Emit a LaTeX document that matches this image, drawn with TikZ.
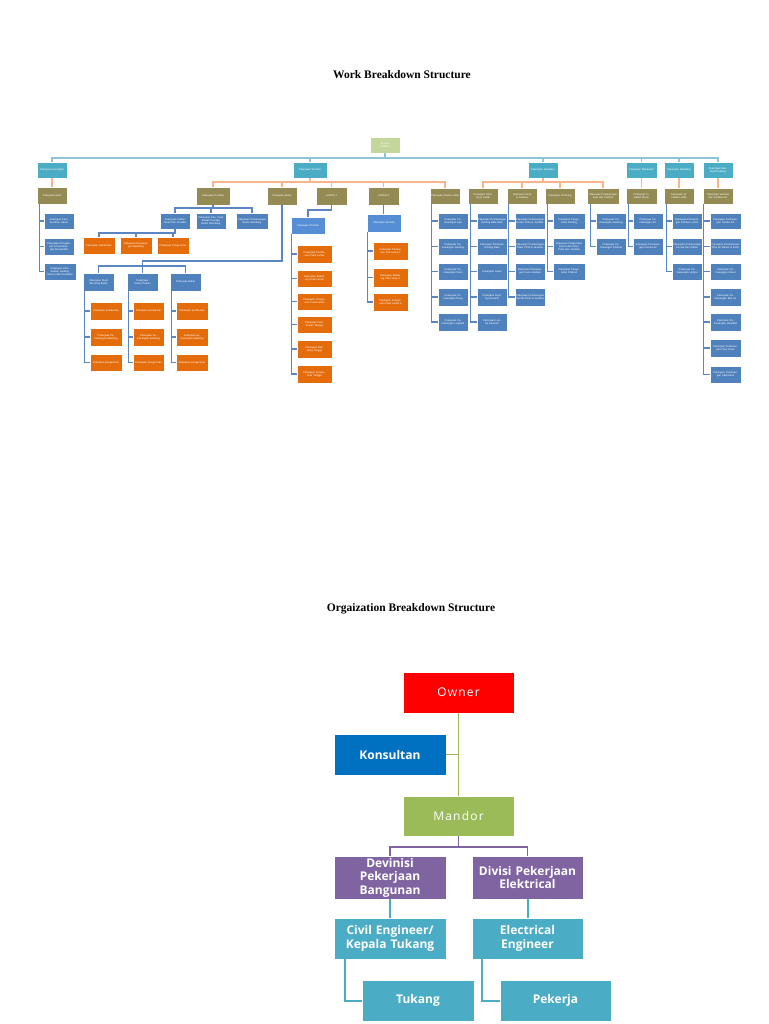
\documentclass[tikz,border=0pt]{standalone}
\usepackage{fontspec}
\setmainfont{Liberation Sans}
\newfontfamily\titlefont{Liberation Serif}
\newfontfamily\orgfont{Open Sans}
\newfontfamily\orgsp[LetterSpace=10]{Open Sans}
\usetikzlibrary{calc}
\definecolor{rootg}{HTML}{C3D69B}
\definecolor{tealc}{HTML}{4BACC6}
\definecolor{olivec}{HTML}{948A54}
\definecolor{bluec}{HTML}{4F81BD}
\definecolor{sbluec}{HTML}{558ED5}
\definecolor{orangec}{HTML}{E46C0A}
\definecolor{topline}{HTML}{8FC3D8}
\definecolor{orline}{HTML}{F9B48A}
\definecolor{blline}{HTML}{5B86C2}
\definecolor{ownerc}{HTML}{FF0000}
\definecolor{konsc}{HTML}{0070C0}
\definecolor{mandc}{HTML}{9BBB59}
\definecolor{purpc}{HTML}{8064A2}
\newcommand\bx[7]{\node[#2, minimum width={(#5)-(#3)}, minimum height={(#6)-(#4)}] (#1) at ({((#3)+(#5))/2},{((#4)+(#6))/2}) {#7};}
\tikzset{
 wb/.style={draw=white, line width=0.3pt, inner sep=0.3pt, align=center, text=white, text width=28pt, font=\fontsize{2.6}{3.1}\selectfont},
 rt/.style={wb, fill=rootg},
 la/.style={wb, fill=tealc},
 lb/.style={wb, fill=olivec},
 lc/.style={wb, fill=bluec},
 ls/.style={wb, fill=sbluec},
 lo/.style={wb, fill=orangec},
 tcon/.style={draw=topline, line width=1.2pt},
 ocon/.style={draw=orline, line width=1.2pt},
 bcon/.style={draw=blline, line width=1.1pt},
 og/.style={draw=white, line width=0.5pt, inner sep=1pt, align=center, text=white, text width=105pt, font=\orgfont\bfseries\fontsize{12}{13.5}\selectfont},
 ogs/.style={og, font=\orgsp\fontsize{12}{13.5}\selectfont},
 gcon/.style={draw=mandc, line width=1.6pt},
 pcon/.style={draw=purpc, line width=1.6pt},
 ccon/.style={draw=tealc, line width=2pt},
}
\begin{document}
\begin{tikzpicture}[x=1pt,y=-1pt]
\useasboundingbox[fill=white] (0,0) rectangle (768,1024);
% titles
\node[font=\titlefont\bfseries\fontsize{11.5}{13}\selectfont] (t1) at (402,75) {Work Breakdown Structure};
\node[font=\titlefont\bfseries\fontsize{11.5}{13}\selectfont] (t2) at (411,609) {Orgaization Breakdown Structure};
% level bars
\coordinate (ytop) at (0,158);
\coordinate (yor) at (0,182);
\coordinate (ypond) at (0,208);
\coordinate (ygal) at (0,233);
\coordinate (ylt) at (0,210);
\coordinate (bj) at (142.5,261);
\coordinate (ybet) at (0,266);
% root and level 1
\bx{root}{rt}{370}{137}{400}{153}{Proyek\\Lantai 2}
\bx{pers}{la}{37}{162}{67}{178}{Pekerjaan Persiapan}
\bx{struk}{la}{293}{162}{327}{178}{Pekerjaan Struktur}
\bx{arsi}{la}{528}{162}{558}{178}{Pekerjaan Arsitektur}
\bx{meka}{la}{626}{162}{657}{178}{Pekerjaan Mekanikal}
\bx{elek}{la}{664}{162}{694}{178}{Pekerjaan Elektrikal}
\bx{sani}{la}{703}{162}{733}{178}{Pekerjaan Sanitasi/Plumbing}
\foreach \n in {pers,struk,arsi,meka,elek,sani}{
 \draw[tcon] (root.south) -- (root.south |- ytop) -| (\n.north);
}
% level 2
\bx{awal}{lb}{37}{187}{67}{204}{Pekerjaan Awal}
\bx{pond}{lb}{196}{187}{230}{205}{Pekerjaan Pondasi}
\bx{beton}{lb}{267}{187}{297}{205}{Pekerjaan Beton}
\bx{lt1}{lb}{316}{187}{347}{205}{LANTAI 1}
\bx{lt2}{lb}{368}{187}{399}{205}{LANTAI 2}
\bx{atap}{lb}{430}{188}{460}{204}{Pekerjaan Struktur Atap}
\bx{dind}{lb}{468}{188}{498}{204}{Pekerjaan Dinding \& Lantai}
\bx{pint}{lb}{507}{188}{537}{204}{Pekerjaan Pintu \& Jendela}
\bx{fini}{lb}{545}{188}{575}{204}{Pekerjaan Finishing}
\bx{plaf}{lb}{587}{188}{619}{204}{Pekerjaan Pemasangan Atap dan Plafond}
\bx{mesin}{lb}{626}{188}{657}{204}{Pekerjaan Instalasi Mesin}
\bx{listr}{lb}{664}{188}{694}{204}{Pekerjaan Instalasi Listrik}
\bx{sair}{lb}{703}{188}{733}{204}{Pekerjaan Sanitasi dan Instalasi Air}
\draw[ocon] (pers.south) -- (awal.north);
\foreach \n in {pond,beton,lt1,lt2,atap}{
 \draw[ocon] (struk.south) -- (struk.south |- yor) -| (\n.north);
}
\foreach \n in {dind,pint,fini,plaf}{
 \draw[ocon] (arsi.south) -- (arsi.south |- yor) -| (\n.north);
}
\draw[ocon] (meka.south) -- (mesin.north);
\draw[ocon] (elek.south) -- (listr.north);
\draw[ocon] (sani.south) -- (sair.north);
% Persiapan children
\bx{aw1}{lc}{44}{213}{74}{229}{Pekerjaan Pembersihan Lahan}
\bx{aw2}{lc}{44}{238}{74}{255}{Pekerjaan Pengukuran \& Pemasangan Bouwplank}
\bx{aw3}{lc}{44}{263}{76}{280}{Pekerjaan Pembuatan Gudang Semen dan Peralatan}
\foreach \n in {aw1,aw2,aw3}{\draw[bcon] ([xshift=3pt]awal.south west) |- (\n.west);}
% Pondasi
\bx{pg}{lc}{160}{213}{190}{229}{Pekerjaan Galian Tanah dan Pondasi}
\bx{pp}{lc}{196}{213}{226}{229}{Pekerjaan Pas. Pasir Bawah Pondasi Beton Bertulang}
\bx{pb}{lc}{236}{213}{268}{229}{Pekerjaan Pemasangan Beton Bertulang}
\foreach \n in {pg,pp,pb}{\draw[bcon] (pond.south) -- (pond.south |- ypond) -| (\n.north);}
\bx{po1}{lo}{83}{237}{115}{254}{Pekerjaan Pembesian}
\bx{po2}{lo}{120}{237}{152}{254}{Pekerjaan Pemasangan Bekisting}
\bx{po3}{lo}{157}{237}{189}{254}{Pekerjaan Pengecoran}
\foreach \n in {po1,po2,po3}{\draw[bcon] (pg.south) -- (pg.south |- ygal) -| (\n.north);}
% Beton
\bx{sl}{lc}{83}{273}{114}{291}{Pekerjaan Sloof dan Ring Balok}
\bx{kp}{lc}{127}{273}{158}{291}{Pekerjaan Kolom Praktis}
\bx{bl}{lc}{170}{273}{201}{291}{Pekerjaan Balok}
\draw[bcon] (beton.south) |- (bj) -- (kp.north);
\draw[bcon] (kp.north |- ybet) -| (sl.north);
\draw[bcon] (kp.north |- ybet) -| (bl.north);
\bx{sa}{lo}{90}{302}{122}{320}{Pekerjaan pembesian}
\bx{sb}{lo}{90}{328}{122}{346}{Pekerjaan Pemasangan bekisting}
\bx{sc}{lo}{90}{354}{122}{371}{Pekerjaan pengecoran}
\bx{ka}{lo}{133}{302}{164}{320}{Pekerjaan pembesian}
\bx{kb}{lo}{133}{328}{164}{346}{Pekerjaan Pemasangan bekisting}
\bx{kc}{lo}{133}{354}{164}{371}{Pekerjaan pengecoran}
\bx{ba}{lo}{176}{302}{208}{320}{Pekerjaan pembesian}
\bx{bb}{lo}{176}{328}{208}{346}{Pekerjaan pemasangan bekisting}
\bx{bc}{lo}{176}{354}{208}{371}{Pekerjaan pengecoran}
\foreach \n in {sa,sb,sc}{\draw[bcon] ([xshift=2pt]sl.south west) |- (\n.west);}
\foreach \n in {ka,kb,kc}{\draw[bcon] ([xshift=2pt]kp.south west) |- (\n.west);}
\foreach \n in {ba,bb,bc}{\draw[bcon] ([xshift=2pt]bl.south west) |- (\n.west);}
% Lantai 1
\bx{sl1}{ls}{291}{217}{325}{234}{Pekerjaan Struktur}
\draw[bcon] (lt1.south) -- (lt1.south |- ylt) -| (sl1.north);
\bx{la1}{lo}{297}{245}{332}{263}{Pekerjaan Pembesian Pelat Lantai}
\bx{la2}{lo}{297}{270}{332}{287}{Pekerjaan Bekisting Pelat Lantai}
\bx{la3}{lo}{297}{293}{332}{310}{Pekerjaan Pengecoran Pelat Lantai}
\bx{la4}{lo}{297}{316}{332}{333}{Pekerjaan Pembesian Tangga}
\bx{la5}{lo}{297}{340}{332}{358}{Pekerjaan Bekisting Tangga}
\bx{la6}{lo}{297}{365}{332}{383}{Pekerjaan Pengecoran Tangga}
\foreach \n in {la1,la2,la3,la4,la5,la6}{\draw[bcon] ([xshift=1pt]sl1.south west) |- (\n.west);}
% Lantai 2
\bx{sl2}{ls}{367}{214}{401}{232}{Pekerjaan Struktur}
\draw[bcon] (lt2.south) -- (lt2.south |- sl2.north);
\bx{lb1}{lo}{373}{242}{408}{260}{Pekerjaan Pembesian Plat Lantai 2}
\bx{lb2}{lo}{373}{268}{408}{287}{Pekerjaan Bekisting Plat Lantai 2}
\bx{lb3}{lo}{373}{293}{408}{311}{Pekerjaan Pengecoran Pelat Lantai 2}
\foreach \n in {lb1,lb2,lb3}{\draw[bcon] ([xshift=1pt]sl2.south west) |- (\n.west);}
% Struktur Atap
\bx{at1}{lc}{438}{213}{468}{229}{Pekerjaan Pemasangan Kap}
\bx{at2}{lc}{438}{238}{468}{255}{Pekerjaan Pemasangan Gording}
\bx{at3}{lc}{438}{263}{468}{280}{Pekerjaan Pemasangan Kaso}
\bx{at4}{lc}{438}{288}{468}{306}{Pekerjaan Pemasangan Reng}
\bx{at5}{lc}{438}{313}{468}{331}{Pekerjaan Pemasangan Lisplank}
\foreach \n in {at1,at2,at3,at4,at5}{\draw[bcon] ([xshift=2pt]atap.south west) |- (\n.west);}
% Dinding & Lantai
\bx{di1}{lc}{477}{213}{507}{229}{Pekerjaan Pemasangan Dinding Batu Bata}
\bx{di2}{lc}{477}{238}{507}{255}{Pekerjaan Plesteran Dinding Bata}
\bx{di3}{lc}{477}{263}{507}{280}{Pekerjaan Acian}
\bx{di4}{lc}{477}{288}{507}{306}{Pekerjaan Dinding Keramik}
\bx{di5}{lc}{477}{313}{507}{331}{Pekerjaan Lantai Keramik}
\foreach \n in {di1,di2,di3,di4,di5}{\draw[bcon] ([xshift=3pt]dind.south west) |- (\n.west);}
% Pintu & Jendela
\bx{pj1}{lc}{515}{213}{545}{229}{Pekerjaan Pemasangan Kusen Pintu \& Jendela}
\bx{pj2}{lc}{515}{238}{545}{255}{Pekerjaan Pemasangan Daun Pintu \& Jendela}
\bx{pj3}{lc}{515}{263}{545}{280}{Pekerjaan Pemasangan Kaca Jendela}
\bx{pj4}{lc}{515}{288}{545}{306}{Pekerjaan Pemasangan Gendel Pintu \& Jendela}
\foreach \n in {pj1,pj2,pj3,pj4}{\draw[bcon] ([xshift=2pt]pint.south west) |- (\n.west);}
% Finishing
\bx{fi1}{lc}{553}{213}{585}{229}{Pekerjaan Pengecatan Dinding}
\bx{fi2}{lc}{553}{238}{585}{255}{Pekerjaan Pengecatan Kusen dan Daun Pintu dan Jendela}
\bx{fi3}{lc}{553}{263}{585}{280}{Pekerjaan Pengecatan Plafond}
\foreach \n in {fi1,fi2,fi3}{\draw[bcon] ([xshift=3pt]fini.south west) |- (\n.west);}
% Atap dan Plafond
\bx{pl1}{lc}{596}{213}{626}{229}{Pekerjaan Pemasangan Genteng}
\bx{pl2}{lc}{596}{238}{626}{255}{Pekerjaan Pemasangan Plafond}
\foreach \n in {pl1,pl2}{\draw[bcon] ([xshift=4pt]plaf.south west) |- (\n.west);}
% Mesin
\bx{me1}{lc}{633}{213}{663}{229}{Pekerjaan Pemasangan AC}
\bx{me2}{lc}{633}{238}{663}{255}{Pekerjaan Pemasangan Pompa Air}
\foreach \n in {me1,me2}{\draw[bcon] ([xshift=3pt]mesin.south west) |- (\n.west);}
% Listrik
\bx{li1}{lc}{672}{213}{702}{229}{Pekerjaan Pemasangan Instalasi Listrik}
\bx{li2}{lc}{672}{238}{702}{255}{Pekerjaan Pemasangan Kontak dan Saklar}
\bx{li3}{lc}{672}{263}{702}{280}{Pekerjaan Pemasangan Lampu}
\foreach \n in {li1,li2,li3}{\draw[bcon] ([xshift=3pt]listr.south west) |- (\n.west);}
% Sanitasi
\bx{sa1}{lc}{710}{213}{741}{229}{Pekerjaan Pemasangan Tandon Air}
\bx{sa2}{lc}{710}{238}{741}{255}{Pekerjaan Pemasangan Pipa Air Bersih \& Kotor}
\bx{sa3}{lc}{710}{263}{741}{280}{Pekerjaan Pemasangan Kloset}
\bx{sa4}{lc}{710}{288}{741}{306}{Pekerjaan Pemasangan Bak Air}
\bx{sa5}{lc}{710}{313}{741}{331}{Pekerjaan Pemasangan Wastafel}
\bx{sa6}{lc}{710}{339}{741}{357}{Pekerjaan Pemasangan Floor Drain}
\bx{sa7}{lc}{710}{366}{741}{383}{Pekerjaan Pemasangan Septictank}
\foreach \n in {sa1,sa2,sa3,sa4,sa5,sa6,sa7}{\draw[bcon] ([xshift=1pt]sair.south west) |- (\n.west);}
% ===== Organization chart =====
\coordinate (ypur) at (0,847);
\coordinate (yleft) at (0,1000);
\bx{owner}{ogs,fill=ownerc}{403}{672}{514}{713}{Owner}
\bx{kons}{og,fill=konsc}{334}{734}{446}{775}{Konsultan}
\bx{mandor}{ogs,fill=mandc}{403}{796}{514}{836}{Mandor}
\bx{dev}{og,fill=purpc}{334}{856}{446}{899}{Devinisi\\Pekerjaan\\Bangunan}
\bx{div}{og,fill=purpc}{472}{856}{583}{899}{Divisi Pekerjaan\\Elektrical}
\bx{civil}{og,fill=tealc}{334}{918}{446}{959}{Civil Engineer/\\Kepala Tukang}
\bx{elec}{og,fill=tealc}{472}{918}{583}{959}{Electrical\\Engineer}
\bx{tuk}{og,fill=tealc}{362}{980}{474}{1021}{Tukang}
\bx{pek}{og,fill=tealc}{500}{980}{611}{1021}{Pekerja}
\draw[gcon] (owner.south) -- (mandor.north);
\draw[gcon] (kons.east) -- (kons.east -| owner.south);
\draw[pcon] (mandor.south) -- (mandor.south |- ypur) -| (dev.north);
\draw[pcon] (mandor.south) -- (mandor.south |- ypur) -| (div.north);
\draw[ccon] (dev.south) -- (civil.north);
\draw[ccon] (div.south) -- (div.south |- elec.north);
\draw[ccon] ([xshift=11pt]civil.south west) |- (tuk.west);
\draw[ccon] ([xshift=10pt]elec.south west) |- (pek.west);
\end{tikzpicture}
\end{document}
